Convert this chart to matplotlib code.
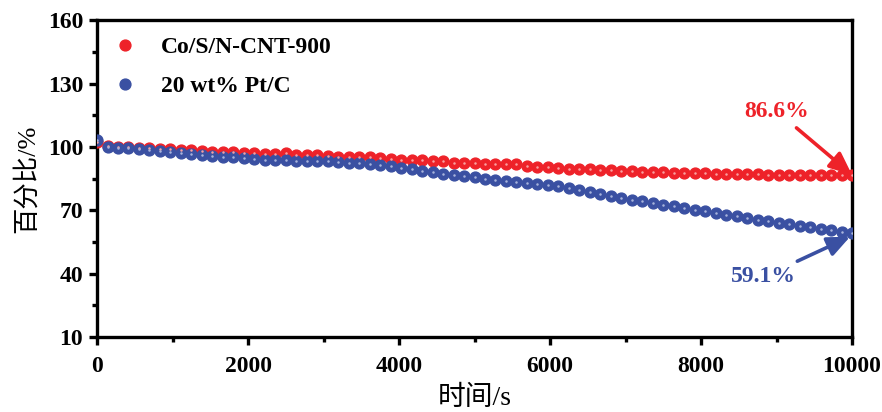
import numpy as np
import matplotlib.pyplot as plt
from matplotlib.ticker import MultipleLocator, FixedLocator

time_s = np.linspace(0, 10000, 73)

co_s_n_cnt = [102.5, 100.3, 100.0, 99.8, 99.6, 99.3, 99.0, 99.0, 98.6, 98.4,
              98.2, 97.8, 97.6, 97.4, 97.3, 97.0, 96.8, 96.6, 97.2, 96.4,
              96.2, 96.0, 95.6, 95.4, 95.3, 95.0, 95.2, 94.8, 94.5, 94.0,
              93.8, 93.6, 93.4, 93.2, 92.6, 92.2, 92.2, 92.0, 92.1, 91.8,
              92.0, 91.2, 90.6, 90.4, 90.0, 89.7, 89.6, 89.5, 89.3, 89.0,
              88.8, 88.5, 88.3, 88.2, 88.0, 87.8, 87.7, 87.5, 87.5, 87.3,
              87.2, 87.0, 87.3, 87.0, 86.9, 86.8, 86.8, 86.7, 86.7, 86.6,
              86.6, 86.7, 86.6]

pt_c = [103.2, 100.1, 99.7, 99.3, 98.9, 98.5, 98.0, 97.5, 97.0, 96.6,
        96.1, 95.7, 95.3, 95.0, 94.6, 94.3, 94.0, 93.8, 93.6, 93.5,
        93.4, 93.3, 93.2, 93.0, 92.6, 92.2, 91.8, 91.3, 90.8, 90.2,
        89.5, 88.8, 88.0, 87.4, 86.8, 86.2, 85.6, 85.0, 84.5, 84.0,
        83.5, 83.1, 82.6, 82.1, 81.5, 80.7, 79.8, 78.8, 77.8, 76.8,
        75.9, 75.1, 74.3, 73.5, 72.7, 71.9, 71.1, 70.3, 69.5, 68.8,
        68.0, 67.2, 66.4, 65.6, 64.8, 64.0, 63.3, 62.6, 61.9, 61.2,
        60.5, 59.8, 59.1]

labels = ['Co/S/N-CNT-900', '20 wt% Pt/C']
y_ticks = [10, 40, 70, 100, 130, 160]
y_minor = [25, 55, 85, 115, 145]
red = '#EE2229'
blue = '#3A50A2'

serif = ['Liberation Serif', 'Noto Sans CJK SC']
plt.rcParams['font.family'] = serif

fig = plt.figure(figsize=(8.82, 4.12), dpi=100)
ax = fig.add_axes([0.110, 0.182, 0.856, 0.769])

for y, c, lab, hl in [(co_s_n_cnt, red, labels[0], '#F8A0A0'),
                      (pt_c, blue, labels[1], '#A8B4DC')]:
    ax.plot(time_s, y, 'o', color=c, ms=7.8, mec=c, label=lab, zorder=3)
    ax.plot(time_s, y, 'o', color=hl, ms=1.8, mec='none', zorder=4)

ax.set_xlim(0, 10000)
ax.set_ylim(10, 160)
ax.xaxis.set_major_locator(MultipleLocator(2000))
ax.xaxis.set_minor_locator(MultipleLocator(1000))
ax.yaxis.set_major_locator(FixedLocator(y_ticks))
ax.yaxis.set_minor_locator(FixedLocator(y_minor))

for s in ax.spines.values():
    s.set_linewidth(2.4)
ax.tick_params(which='major', direction='out', length=6, width=2.4,
               labelsize=17, pad=4)
ax.tick_params(axis='x', which='major', pad=8)
ax.tick_params(which='minor', direction='out', length=3.5, width=2.4)
for t in ax.get_xticklabels() + ax.get_yticklabels():
    t.set_fontweight('bold')

ax.set_xlabel('时间/s', fontsize=20, labelpad=6)
ax.set_ylabel('百分比/%', fontsize=19, labelpad=6)

leg = ax.legend(loc='upper left', frameon=False,
                prop={'weight': 'bold', 'size': 17, 'family': serif},
                handlelength=1.0, handletextpad=1.0, labelspacing=0.75,
                borderaxespad=0.3, bbox_to_anchor=(0.0, 1.0))
for h in leg.legend_handles:
    h.set_markersize(7.8)

ax.annotate('86.6%', xy=(10000, 86.8), xytext=(9000, 117),
            color=red, fontsize=17, fontweight='bold', ha='center', va='center',
            arrowprops=dict(arrowstyle='-|>,head_width=0.35,head_length=0.8',
                            color=red, lw=2.6, shrinkA=4, shrinkB=0))
ax.annotate('59.1%', xy=(9975, 57.5), xytext=(8830, 38.5),
            color=blue, fontsize=17, fontweight='bold', ha='center', va='center',
            arrowprops=dict(arrowstyle='-|>,head_width=0.35,head_length=0.8',
                            color=blue, lw=2.6, shrinkA=4, shrinkB=0))

fig.savefig('out.png', dpi=100)
